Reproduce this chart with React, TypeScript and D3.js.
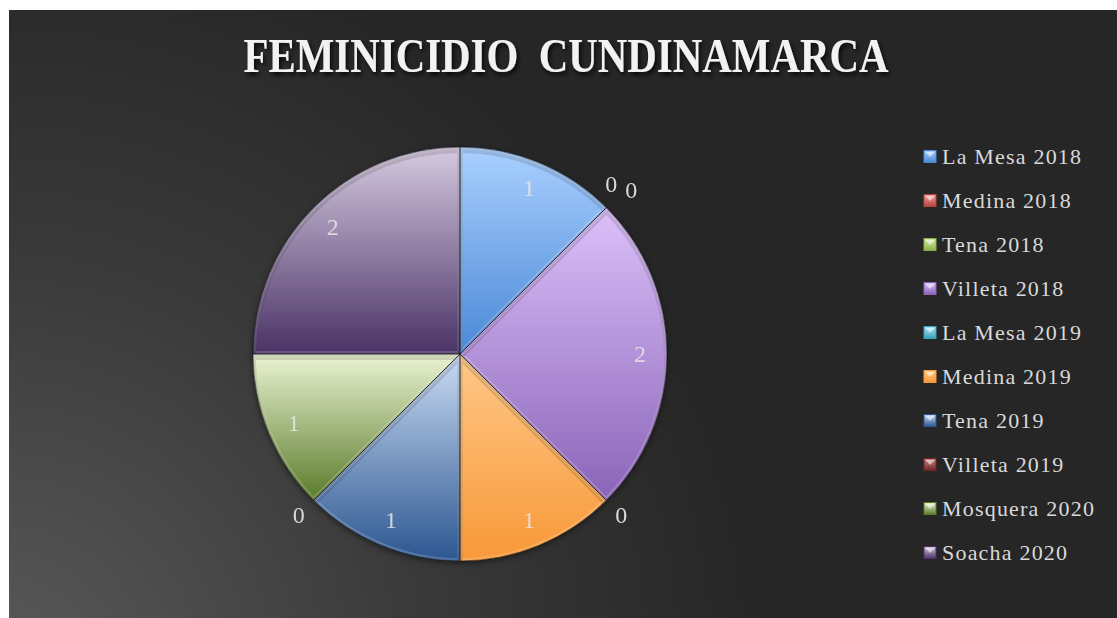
import React from 'react'
import * as d3 from 'd3'

// chart data
const categories = [
  'La Mesa 2018', 'Medina 2018', 'Tena 2018', 'Villeta 2018', 'La Mesa 2019',
  'Medina 2019', 'Tena 2019', 'Villeta 2019', 'Mosquera 2020', 'Soacha 2020'
]
const values = [1, 0, 0, 2, 0, 1, 1, 0, 1, 2]
const title = 'FEMINICIDIO  CUNDINAMARCA'

// slice colours (light top, dark bottom of each gradient)
const colorsTop = ['#aad0ff', '#f0a8a6', '#d8ecb0', '#dcc0fa', '#a8e4f4', '#ffc888', '#cadcf4', '#c88a88', '#eaf4d2', '#d6cae0']
const colorsBottom = ['#4a88d6', '#b8403c', '#8cb048', '#8a64b8', '#3aa0bc', '#f89838', '#2c5690', '#6e2624', '#5a7a2a', '#4a3266']

const W = 1117
const H = 618
const cx = 460
const cy = 354
const R = 207

const App = () => {
  const pie = d3.pie<number>().sort(null).value(d => d)
  const arcs = pie(values)
  const arc = d3.arc<d3.PieArcDatum<number>>().innerRadius(0).outerRadius(R)
  const labelArc = d3.arc<d3.PieArcDatum<number>>().innerRadius(180).outerRadius(180)

  // zero slices get their label outside, spread a little when they pile up
  const zeroPos: {[k: number]: [number, number]} = {}
  let i = 0
  while (i < arcs.length) {
    if (arcs[i].value === 0) {
      let j = i
      while (j < arcs.length && arcs[j].value === 0) j++
      const n = j - i
      for (let k = i; k < j; k++) {
        const off = k - i - (n - 1) / 2
        const a = arcs[k].startAngle + off * 0.08
        const r = 228 + off * 10
        zeroPos[k] = [Math.sin(a) * r, -Math.cos(a) * r - (n > 1 ? 6 : 0)]
      }
      i = j
    } else i++
  }

  const legendY = d3.scaleLinear().domain([0, categories.length - 1]).range([157, 553])

  return (
    <div style={{position: 'absolute', left: 0, top: 0}}>
      <svg width={W} height={H} style={{display: 'block'}}>
        <defs>
          <radialGradient id="bg" gradientUnits="userSpaceOnUse" cx={0} cy={H + 60} r={760}>
            <stop offset="0" stopColor="#5a5a5a" />
            <stop offset="0.55" stopColor="#3a3a3a" />
            <stop offset="1" stopColor="#262626" />
          </radialGradient>
          <filter id="titleShadow" x="-10%" y="-30%" width="120%" height="160%">
            <feDropShadow dx="2" dy="3" stdDeviation="2" floodColor="#000" floodOpacity="0.8" />
          </filter>
          <filter id="pieShadow" x="-20%" y="-20%" width="140%" height="140%">
            <feDropShadow dx="0" dy="2" stdDeviation="3" floodColor="#000" floodOpacity="0.5" />
          </filter>
          {categories.map((c, k) => (
            <linearGradient key={c} id={'g' + k} x1="0" y1="0" x2="0" y2="1">
              <stop offset="0" stopColor={colorsTop[k]} />
              <stop offset="1" stopColor={colorsBottom[k]} />
            </linearGradient>
          ))}
          {arcs.map((a, k) => (
            <clipPath key={k} id={'c' + k}>
              <path d={arc(a) || ''} transform={`translate(${cx},${cy})`} />
            </clipPath>
          ))}
        </defs>
        <rect x={9} y={10} width={W - 9} height={H - 10} fill="url(#bg)" />

        <text x={566} y={72} textAnchor="middle" fontFamily="'Liberation Serif', serif" fontWeight="bold"
          fontSize={48} fill="#f2f2f2" textLength={645} lengthAdjust="spacingAndGlyphs"
          filter="url(#titleShadow)" style={{whiteSpace: 'pre'}}>{title}</text>

        <g filter="url(#pieShadow)">
          {arcs.map((a, k) => a.value > 0 && (
            <path key={k} d={arc(a) || ''} transform={`translate(${cx},${cy})`} fill={`url(#g${k})`} />
          ))}
        </g>
        {arcs.map((a, k) => a.value > 0 && (
          <g key={k} clipPath={`url(#c${k})`}>
            <path d={arc(a) || ''} transform={`translate(${cx},${cy})`} fill="none"
              stroke="#ffffff" strokeOpacity={0.16} strokeWidth={6} />
            <path d={arc(a) || ''} transform={`translate(${cx},${cy + 3})`} fill="none"
              stroke="#000000" strokeOpacity={0.12} strokeWidth={6} />
          </g>
        ))}
        {arcs.map((a, k) => a.value > 0 && (
          <path key={k} d={arc(a) || ''} transform={`translate(${cx},${cy})`} fill="none"
            stroke="#000" strokeOpacity={0.45} strokeWidth={1} />
        ))}

        {arcs.map((a, k) => {
          const [x, y] = a.value > 0 ? labelArc.centroid(a) : zeroPos[k]
          return (
            <text key={k} x={cx + x} y={cy + y} textAnchor="middle" dominantBaseline="central"
              fontFamily="'Liberation Serif', serif" fontSize={24}
              fill={a.value > 0 ? '#e6e6e6' : '#d9d9d9'} fillOpacity={a.value > 0 ? 0.85 : 1}>
              {a.value}
            </text>
          )
        })}

        {categories.map((c, k) => (
          <g key={c} transform={`translate(924,${legendY(k)})`}>
            <rect x={0} y={-6.5} width={12} height={12} fill={`url(#g${k})`} stroke={colorsBottom[k]} strokeWidth={1} />
            <path d="M1.5,-5 L10.5,-5 L6,0 Z" fill="#ffffff" fillOpacity={0.55} />
            <text x={18} y={7} fontFamily="'Liberation Serif', serif" fontSize={22} letterSpacing={1.2} fill="#d9d9d9">{c}</text>
          </g>
        ))}
      </svg>
    </div>
  )
}

export default App
